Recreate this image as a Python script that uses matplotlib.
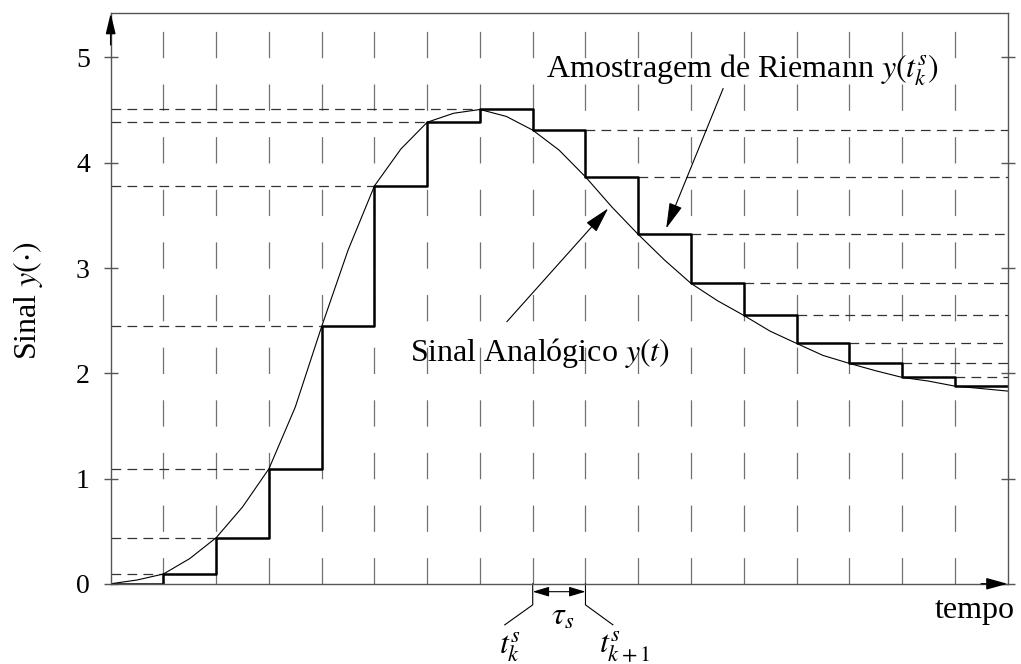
import matplotlib
matplotlib.use("Agg")
import matplotlib.pyplot as plt
import numpy as np

plt.rcParams['font.family'] = ['Liberation Serif', 'DejaVu Serif']
plt.rcParams['mathtext.fontset'] = 'stix'
plt.rcParams['lines.scale_dashes'] = False

# sampled values y(t_k), k = 0..16 (zero-order hold)
samples = [0.0, 0.093, 0.438, 1.093, 2.445, 3.78, 4.385, 4.506, 4.31,
           3.866, 3.319, 2.854, 2.55, 2.284, 2.094, 1.961, 1.878]
peak_k = 7

# analog signal read every half sample period
t_curve = np.arange(0, 17.5, 0.5)
y_curve = [0.0, 0.036, 0.093, 0.24, 0.438, 0.73, 1.093, 1.68, 2.445, 3.17,
           3.78, 4.13, 4.385, 4.47, 4.506, 4.44, 4.31, 4.12, 3.866, 3.58,
           3.319, 3.075, 2.854, 2.69, 2.55, 2.40, 2.284, 2.17, 2.094, 2.024,
           1.961, 1.926, 1.878, 1.855, 1.831]

yticks = [0, 1, 2, 3, 4, 5]
xmax = 17
ymax = 5.42

fig = plt.figure(figsize=(10.21, 6.64), dpi=100)
ax = fig.add_axes([0.1084, 0.1208, 0.8784, 0.8592])
ax.set_xlim(0, xmax)
ax.set_ylim(0, ymax)

frame = '#555555'
for s in ax.spines.values():
    s.set_color(frame)
    s.set_linewidth(1.0)

# dash length = quarter unit of y
unit_pt = 0.8592 * 6.64 * 72 / ymax
vdash = (0, (0.25 * unit_pt, 0.25 * unit_pt))

k = np.arange(len(samples))
for kk in k[1:]:
    ax.plot([kk, kk], [0, 5.25], color='#707070', lw=0.9, linestyle=vdash)

# horizontal dashed guide lines
for kk, v in zip(k, samples):
    if kk == 0:
        continue
    if kk <= peak_k:
        ax.plot([0, kk], [v, v], color='#333333', lw=0.9, linestyle=(0, (7, 4.5)))
    elif kk + 1 < xmax:
        ax.plot([kk + 1, xmax], [v, v], color='#333333', lw=0.9, linestyle=(0, (7, 4.5)))

ax.plot(t_curve, y_curve, color='black', lw=0.8)
ax.step(list(k) + [xmax], samples + [samples[-1]], where='post', color='black', lw=1.8)

ax.set_yticks(yticks)
ax.set_xticks([])
ax.tick_params(axis='y', direction='inout', length=10, width=1.0, color=frame,
               labelsize=20, pad=10, right=True)
ax.set_ylabel(r'Sinal $y(\cdot)$', fontsize=23)
ax.yaxis.set_label_coords(-0.073, 0.497)

# axis arrows
ax.annotate('', xy=(xmax, 0), xytext=(xmax - 0.5, 0),
            arrowprops=dict(arrowstyle='-|>,head_length=1.3,head_width=0.36',
                            mutation_scale=10, color='black', lw=1.0,
                            shrinkA=0, shrinkB=0), annotation_clip=False)
ax.annotate('', xy=(0, ymax), xytext=(0, ymax - 0.3),
            arrowprops=dict(arrowstyle='-|>,head_length=1.25,head_width=0.3',
                            mutation_scale=10, color='black', lw=1.0,
                            shrinkA=0, shrinkB=0), annotation_clip=False)

# labels with arrows
ax.text(8.26, 4.81, r'Amostragem de Riemann $y(t_k^s)$', fontsize=23,
        ha='left', va='baseline')
ax.annotate('', xy=(10.53, 3.376), xytext=(11.61, 4.706),
            arrowprops=dict(arrowstyle='-|>,head_length=1.6,head_width=0.42',
                            mutation_scale=10, color='black', lw=0.8,
                            shrinkA=0, shrinkB=0))
ax.text(5.67, 2.12, r'Sinal Analógico $y(t)$', fontsize=23,
        ha='left', va='baseline')
ax.annotate('', xy=(9.43, 3.566), xytext=(7.51, 2.49),
            arrowprops=dict(arrowstyle='-|>,head_length=1.6,head_width=0.42',
                            mutation_scale=10, color='black', lw=0.8,
                            shrinkA=0, shrinkB=0))

# sampling interval marker under the axis
ka, kb = 8, 9
for xx, xe in [(ka, ka - 0.53), (kb, kb + 0.52)]:
    ax.plot([xx, xx, xe], [0, -0.2, -0.39], color='black', lw=0.8, clip_on=False)
ax.annotate('', xy=(kb, -0.075), xytext=(ka, -0.075),
            arrowprops=dict(arrowstyle='<|-|>,head_length=1.0,head_width=0.3',
                            mutation_scale=10, color='black', lw=0.8,
                            shrinkA=0, shrinkB=0), annotation_clip=False)
ax.text(8.575, -0.317, r'$\tau_s$', fontsize=23, ha='center', va='center')
ax.text(7.57, -0.60, r'$t_k^s$', fontsize=23, ha='center', va='center')
ax.text(9.75, -0.60, r'$t_{k+1}^s$', fontsize=23, ha='center', va='center')
ax.text(17.14, -0.325, 'tempo', fontsize=23, ha='right', va='baseline')

fig.savefig('out.png', dpi=100)
